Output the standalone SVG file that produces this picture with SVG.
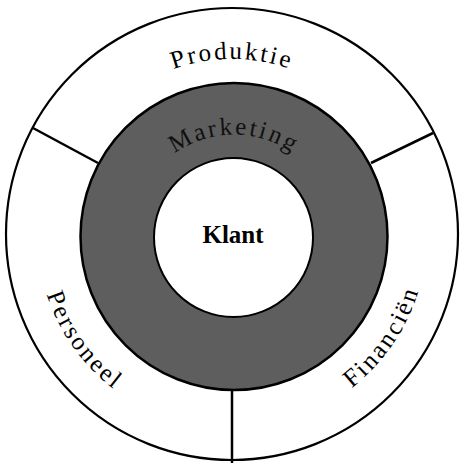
<svg xmlns="http://www.w3.org/2000/svg" xmlns:xlink="http://www.w3.org/1999/xlink" width="460" height="463" viewBox="0 0 460 463">
<style>
.lbl{font-family:"Liberation Serif","Times New Roman",serif;font-size:25px;fill:#000;letter-spacing:2.5px}
.mk{font-family:"Liberation Serif","Times New Roman",serif;font-size:25px;fill:#111;letter-spacing:2.5px}
.line{stroke:#000;stroke-width:2.5;fill:none}
</style>
<defs>
<path id="topArc" d="M57,234 A175,175 0 0 1 407,234"/>
<path id="botArc" d="M37,234 A195,195 0 0 0 427,234"/>
<path id="mkArc" d="M132,236.5 A102,102 0 0 1 336,236.5"/>
</defs>
<rect width="460" height="463" fill="#fff"/>
<g id="outer">
<circle cx="232" cy="234" r="226" fill="#fff" stroke="#000" stroke-width="2.2"/>
</g>
<g id="connectors">
<line class="line" x1="33" y1="128" x2="98" y2="163"/>
<line class="line" x1="433" y1="133" x2="371" y2="163"/>
<line class="line" x1="232" y1="390" x2="232" y2="463"/>
</g>
<g id="marketing">
<circle cx="234" cy="236.5" r="153.5" fill="#5e5e5e" stroke="#000" stroke-width="2.5"/>
<text class="mk"><textPath xlink:href="#mkArc" href="#mkArc" startOffset="50%" text-anchor="middle">Marketing</textPath></text>
</g>
<g id="klant">
<circle cx="233.5" cy="237.5" r="79.5" fill="#fff" stroke="#000" stroke-width="2"/>
<text x="233" y="243" text-anchor="middle" font-family="Liberation Serif, Times New Roman, serif" font-size="25" font-weight="bold">Klant</text>
</g>
<g id="produktie">
<text class="lbl"><textPath xlink:href="#topArc" href="#topArc" startOffset="50%" text-anchor="middle">Produktie</textPath></text>
</g>
<g id="personeel">
<text class="lbl"><textPath xlink:href="#botArc" href="#botArc" startOffset="19.8%" text-anchor="middle">Personeel</textPath></text>
</g>
<g id="financien">
<text class="lbl"><textPath xlink:href="#botArc" href="#botArc" startOffset="80.9%" text-anchor="middle">Financiën</textPath></text>
</g>
</svg>
